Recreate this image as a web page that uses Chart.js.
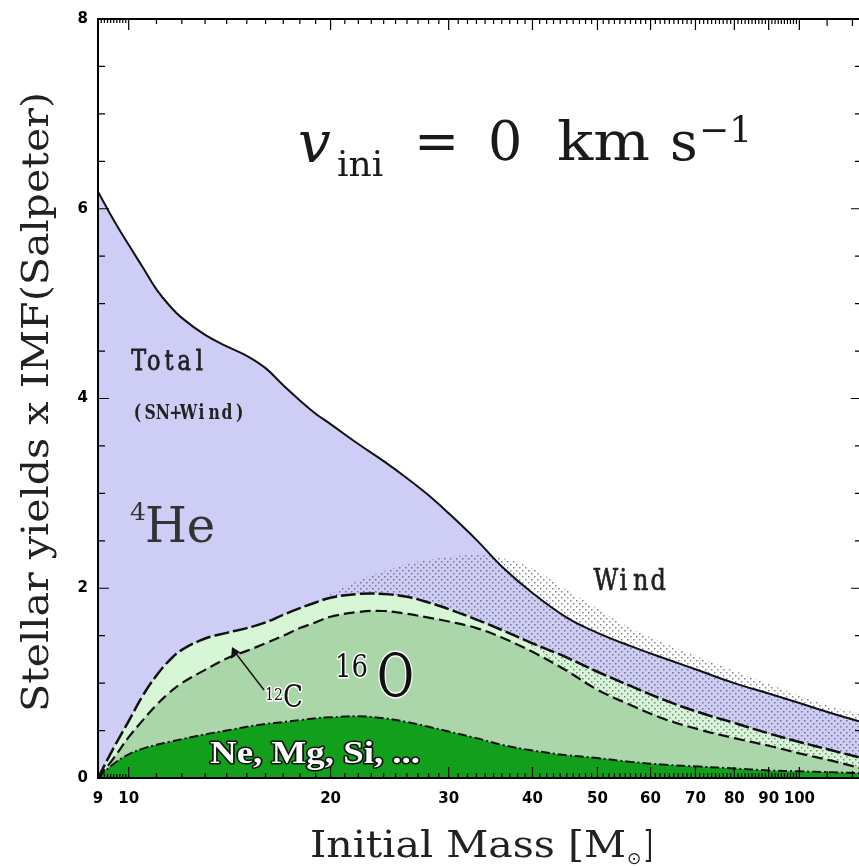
<!DOCTYPE html>
<html>
<head>
<meta charset="utf-8">
<script src="https://cdn.jsdelivr.net/npm/chart.js@4"></script>
<style>
html, body { margin: 0; padding: 0; background: #fff; overflow: hidden; }
#wrap { width: 859px; height: 866px; overflow: hidden; }
</style>
</head>
<body>
<div id="wrap"><canvas id="yields_chart" width="870" height="866"></canvas></div>
<script>
// initial masses (Msun) and yields x IMF
const masses = [9, 9.5, 10, 10.5, 11, 11.5, 12, 13, 14, 15, 16, 17, 18, 19, 20, 22, 24, 26, 28, 30, 33, 36, 40, 45, 50, 56, 63, 71, 80, 90, 100, 112, 124];
const total = [6.18, 5.88, 5.62, 5.38, 5.15, 4.98, 4.85, 4.67, 4.55, 4.45, 4.32, 4.14, 3.98, 3.84, 3.73, 3.52, 3.34, 3.16, 2.98, 2.79, 2.51, 2.23, 1.95, 1.69, 1.53, 1.39, 1.26, 1.13, 1.00, 0.89, 0.79, 0.68, 0.59];
const windTop = [0.0, 0.32, 0.60, 0.87, 1.08, 1.24, 1.35, 1.47, 1.53, 1.58, 1.64, 1.72, 1.79, 1.85, 1.94, 2.08, 2.18, 2.25, 2.30, 2.33, 2.35, 2.32, 2.21, 1.98, 1.79, 1.58, 1.42, 1.27, 1.13, 0.99, 0.87, 0.75, 0.67];
const windBase = [0.0, 0.32, 0.60, 0.87, 1.08, 1.24, 1.35, 1.47, 1.53, 1.58, 1.64, 1.72, 1.79, 1.85, 1.90, 1.94, 1.94, 1.91, 1.85, 1.78, 1.67, 1.56, 1.38, 1.13, 0.93, 0.77, 0.62, 0.51, 0.43, 0.34, 0.26, 0.18, 0.10];
const carbonTop = [0.0, 0.32, 0.60, 0.87, 1.08, 1.24, 1.35, 1.47, 1.53, 1.58, 1.64, 1.72, 1.79, 1.85, 1.90, 1.94, 1.94, 1.91, 1.85, 1.78, 1.67, 1.56, 1.42, 1.27, 1.12, 0.97, 0.82, 0.69, 0.58, 0.47, 0.38, 0.29, 0.21];
const oxygenTop = [0.0, 0.21, 0.43, 0.61, 0.77, 0.90, 1.00, 1.14, 1.26, 1.34, 1.42, 1.50, 1.58, 1.64, 1.70, 1.75, 1.76, 1.73, 1.69, 1.65, 1.58, 1.48, 1.33, 1.13, 0.93, 0.77, 0.62, 0.51, 0.42, 0.34, 0.26, 0.18, 0.10];
const neMgSiTop = [0.0, 0.15, 0.25, 0.31, 0.35, 0.38, 0.41, 0.46, 0.50, 0.54, 0.57, 0.59, 0.61, 0.63, 0.64, 0.65, 0.63, 0.59, 0.54, 0.49, 0.42, 0.35, 0.29, 0.24, 0.21, 0.17, 0.14, 0.12, 0.10, 0.08, 0.07, 0.06, 0.05];

const xLabelTicks = [9, 10, 20, 30, 40, 50, 60, 70, 80, 90, 100];
const yLabelTicks = [0, 2, 4, 6, 8];

const pts = arr => masses.map((m, i) => ({x: m, y: arr[i]}));

let myChart = document.getElementById('yields_chart').getContext('2d');

// dotted fill for the wind part
function dotPattern() {
    const c = document.createElement('canvas');
    c.width = 6; c.height = 6;
    const g = c.getContext('2d');
    g.fillStyle = 'rgba(95,95,110,0.8)';
    g.fillRect(0, 0, 1.5, 1.5);
    g.fillRect(3, 3, 1.5, 1.5);
    return myChart.createPattern(c, 'repeat');
}

// draw text squeezed/stretched to a given width
function fitText(ctx, text, x, y, w, font, fill, stroke, strokeW) {
    ctx.save();
    ctx.font = font;
    const m = ctx.measureText(text).width;
    ctx.translate(x, y);
    ctx.scale(w / m, 1);
    ctx.textAlign = 'left';
    ctx.textBaseline = 'alphabetic';
    if (stroke) {
        ctx.strokeStyle = stroke;
        ctx.lineWidth = strokeW;
        ctx.lineJoin = 'round';
        ctx.strokeText(text, 0, 0);
    }
    ctx.fillStyle = fill;
    ctx.fillText(text, 0, 0);
    ctx.restore();
}

// typewriter look: one glyph per fixed cell
function monoText(ctx, text, x, y, pitch, font, sx, fill, weight) {
    ctx.save();
    ctx.font = font;
    ctx.fillStyle = fill;
    ctx.strokeStyle = fill;
    ctx.lineWidth = weight || 0;
    ctx.textAlign = 'center';
    [...text].forEach((ch, i) => {
        ctx.save();
        ctx.translate(x + (i + 0.5) * pitch, y);
        ctx.scale(sx, 1);
        ctx.fillText(ch, 0, 0);
        if (weight) ctx.strokeText(ch, 0, 0);
        ctx.restore();
    });
    ctx.restore();
}

const decorations = {
    id: 'decorations',
    afterDraw(chart) {
        const {ctx, chartArea: a, scales: {x, y}} = chart;
        ctx.save();
        ctx.strokeStyle = '#000';
        ctx.lineWidth = 2;
        ctx.strokeRect(a.left, a.top, a.right - a.left, a.bottom - a.top);

        // inward ticks on all four sides
        ctx.lineWidth = 1.2;
        ctx.beginPath();
        const xt = (v, len) => {
            const px = x.getPixelForValue(v);
            ctx.moveTo(px, a.bottom); ctx.lineTo(px, a.bottom - len);
            ctx.moveTo(px, a.top); ctx.lineTo(px, a.top + len);
        };
        const yt = (v, len) => {
            const py = y.getPixelForValue(v);
            ctx.moveTo(a.left, py); ctx.lineTo(a.left + len, py);
            ctx.moveTo(a.right, py); ctx.lineTo(a.right - len, py);
        };
        for (let k = 1; k < 10; k++) xt(9 + k / 10, 4);
        for (let v = 10; v <= 100; v++) xt(v, v % 10 ? 5 : 11);
        xt(110, 7); xt(120, 7);
        for (let k = 1; k < 16; k++) yt(k / 2, k % 4 ? 7 : 11);
        ctx.stroke();

        // axis titles
        ctx.save();
        ctx.translate(48, 402);
        ctx.rotate(-Math.PI / 2);
        fitText(ctx, 'Stellar yields x IMF(Salpeter)', -310, 0, 620, '37px "DejaVu Serif"', '#222');
        ctx.restore();
        fitText(ctx, 'Initial Mass [M', 310, 857, 316, '37px "DejaVu Serif"', '#222');
        ctx.font = '17px "DejaVu Sans"';
        ctx.fillStyle = '#222';
        ctx.fillText('\u2299', 627, 864);
        fitText(ctx, ']', 644, 857, 9, '37px "DejaVu Serif"', '#222');

        // v_ini = 0 km s^-1
        ctx.fillStyle = '#1a1a1a';
        ctx.font = 'italic 58px "DejaVu Serif"';
        ctx.fillText('v', 298, 162);
        ctx.font = '36px "DejaVu Serif"';
        ctx.fillText('ini', 337, 176);
        ctx.font = '54px "DejaVu Serif"';
        ctx.fillText('=', 414, 160);
        ctx.fillText('0', 488, 160);
        fitText(ctx, 'km', 557, 160, 93, '54px "DejaVu Serif"', '#1a1a1a');
        ctx.font = '54px "DejaVu Serif"';
        ctx.fillText('s', 670, 160);
        ctx.font = '36px "DejaVu Serif"';
        ctx.fillText('\u22121', 699, 142);

        // region labels
        monoText(ctx, 'Total', 131, 370, 15.2, '28px "DejaVu Serif"', 0.8, '#222', 0.8);
        monoText(ctx, '(SN+Wind)', 131, 419, 12.8, 'bold 20px "DejaVu Serif"', 0.78, '#222');
        monoText(ctx, 'Wind', 597, 590, 17.5, '30px "DejaVu Serif"', 0.8, '#222', 0.7);
        ctx.font = '25px "DejaVu Serif"';
        ctx.fillStyle = '#333';
        ctx.fillText('4', 130, 520);
        ctx.font = '48px "DejaVu Serif"';
        ctx.fillText('He', 145, 542);

        fitText(ctx, '16', 335, 677, 33, '32px "DejaVu Serif"', '#111', '#fff', 3);
        fitText(ctx, 'O', 377, 697, 37, '60px "DejaVu Serif"', '#111', '#fff', 3);
        fitText(ctx, '12', 265, 700, 18, '17px "DejaVu Serif"', '#111', '#fff', 3);
        fitText(ctx, 'C', 283, 707, 20, '32px "DejaVu Serif"', '#111', '#fff', 3);

        // arrow to the 12C band
        ctx.strokeStyle = '#111';
        ctx.lineWidth = 1.4;
        ctx.beginPath();
        ctx.moveTo(264, 690);
        ctx.lineTo(234, 651);
        ctx.stroke();
        ctx.fillStyle = '#111';
        ctx.beginPath();
        ctx.moveTo(232, 647);
        ctx.lineTo(231, 659);
        ctx.lineTo(240, 652);
        ctx.closePath();
        ctx.fill();

        fitText(ctx, 'Ne, Mg, Si, ...', 210, 763, 210, 'bold 31px "Liberation Serif"', '#fff', '#111', 3);
        ctx.restore();
    }
};

let yields_chart = new Chart(myChart, {
    type: 'line',
    data: {
        datasets: [{
            label: 'Ne, Mg, Si, ...',
            data: pts(neMgSiTop),
            fill: 'origin',
            backgroundColor: '#12a01c',
            borderColor: '#111',
            borderWidth: 2,
            borderDash: [9, 3, 2, 3]
        }, {
            label: '16O',
            data: pts(oxygenTop),
            fill: 'origin',
            backgroundColor: '#aad6aa',
            borderColor: '#111',
            borderWidth: 2.2,
            borderDash: [11, 5]
        }, {
            label: 'Wind',
            data: pts(windTop),
            fill: '+1',
            backgroundColor: dotPattern(),
            borderWidth: 0
        }, {
            label: 'wind base',
            data: pts(windBase),
            fill: false,
            borderWidth: 0
        }, {
            label: '12C',
            data: pts(carbonTop),
            fill: 'origin',
            backgroundColor: '#d6f6d6',
            borderColor: '#111',
            borderWidth: 2.5,
            borderDash: [15, 4]
        }, {
            label: 'Total (SN+Wind)',
            data: pts(total),
            fill: 'origin',
            backgroundColor: '#cdcdf6',
            borderColor: '#111',
            borderWidth: 2
        }]
    },
    options: {
        responsive: false,
        animation: false,
        layout: { padding: { top: 14, right: 8, left: 0, bottom: 0 } },
        elements: {
            point: { radius: 0 },
            line: { tension: 0.4 }
        },
        plugins: {
            legend: { display: false },
            tooltip: { enabled: false },
            filler: { drawTime: 'beforeDatasetsDraw' }
        },
        scales: {
            x: {
                type: 'logarithmic',
                min: 9,
                max: 124,
                afterBuildTicks: s => { s.ticks = xLabelTicks.map(v => ({value: v})); },
                afterFit: s => { s.height = 88; },
                grid: { display: false, drawTicks: false },
                border: { display: false },
                ticks: {
                    autoSkip: false,
                    maxRotation: 0,
                    padding: 12,
                    color: '#000',
                    font: { family: 'DejaVu Sans', weight: 'bold', size: 15 },
                    callback: v => String(v)
                }
            },
            y: {
                min: 0,
                max: 8,
                afterBuildTicks: s => { s.ticks = yLabelTicks.map(v => ({value: v})); },
                afterFit: s => { s.width = 98; },
                grid: { display: false, drawTicks: false },
                border: { display: false },
                ticks: {
                    padding: 10,
                    color: '#000',
                    font: { family: 'DejaVu Sans', weight: 'bold', size: 15 }
                }
            }
        }
    },
    plugins: [decorations]
});
</script>
</body>
</html>
